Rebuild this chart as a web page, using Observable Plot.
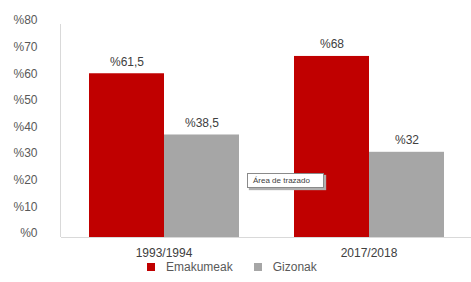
<!DOCTYPE html>
<html>
<head>
<meta charset="utf-8">
<script src="https://cdn.jsdelivr.net/npm/d3@7"></script>
<script src="https://cdn.jsdelivr.net/npm/@observablehq/plot@0.6"></script>
<style>
  html, body { margin: 0; padding: 0; background: white; }
  body { width: 471px; height: 282px; position: relative; overflow: hidden; font-family: "Liberation Sans", Arial, sans-serif; }
  #legend { position: absolute; left: 147px; top: 260px; display: flex; align-items: center; font-size: 12px; color: #595959; }
  .sw { width: 8px; height: 8px; display: inline-block; }
  #tip { position: absolute; left: 247px; top: 173px; width: 70px; height: 13px; border: 1px solid #8a8a8a; background: white; box-shadow: 2px 2px 1px #b0b0b0; font-size: 8px; line-height: 13px; color: #404040; padding-left: 5px; box-sizing: content-box; }
  #chart { position: absolute; left: 0; top: 0; }
</style>
</head>
<body>
<div id="chart"></div>
<div id="legend"></div>
<div id="tip">Área de trazado</div>
<script>
const years = ["1993/1994", "2017/2018"];
const series = ["Emakumeak", "Gizonak"];
const emakumeak = [61.5, 68];
const gizonak = [38.5, 32];
const yTicks = [0, 10, 20, 30, 40, 50, 60, 70, 80];
const colors = ["#C00000", "#A6A6A6"];

const data = years.flatMap((y, i) => [
  {year: y, serie: series[0], value: emakumeak[i]},
  {year: y, serie: series[1], value: gizonak[i]}
]);
const fmt = v => "%" + String(v).replace(".", ",");

const chart = Plot.plot({
  width: 471,
  height: 262,
  marginLeft: 60,
  marginRight: 0,
  marginTop: 24,
  marginBottom: 25,
  style: {fontFamily: "'Liberation Sans', Arial, sans-serif", fontSize: "12px", color: "#595959", background: "white"},
  fx: {domain: years, padding: 0, label: null},
  x: {domain: series, paddingInner: 0, paddingOuter: 0.36, axis: null},
  y: {domain: [0, 80]},
  color: {domain: series, range: colors},
  marks: [
    Plot.barY(data, {fx: "year", x: "serie", y: "value", fill: "serie"}),
    Plot.text(data, {fx: "year", x: "serie", y: "value", text: d => fmt(d.value), dy: -12, fill: "#404040", fontSize: 12}),
    Plot.ruleY([0], {stroke: "#d9d9d9"}),
    Plot.axisY({ticks: yTicks, tickSize: 0, tickPadding: 24, tickFormat: d => "%" + d, dy: -4, label: null, fill: "#595959"}),
    Plot.axisFx({anchor: "bottom", tickSize: 0, tickPadding: 11, label: null, fill: "#404040"})
  ]
});

// vertical value-axis line, positioned through the chart's own scales
const fxS = chart.scale("fx"), yS = chart.scale("y");
const x0 = Math.floor(fxS.apply(years[0])) - 0.5;
d3.select(chart).append("line")
  .attr("x1", x0).attr("x2", x0)
  .attr("y1", yS.apply(80)).attr("y2", yS.apply(0))
  .attr("stroke", "#d9d9d9");

document.getElementById("chart").appendChild(chart);

const legend = document.getElementById("legend");
series.forEach((s, i) => {
  const sw = document.createElement("span");
  sw.className = "sw";
  sw.style.background = colors[i];
  sw.style.marginLeft = i === 0 ? "0px" : "21px";
  sw.style.marginRight = "11px";
  legend.appendChild(sw);
  const t = document.createElement("span");
  t.textContent = s;
  legend.appendChild(t);
});
</script>
</body>
</html>
